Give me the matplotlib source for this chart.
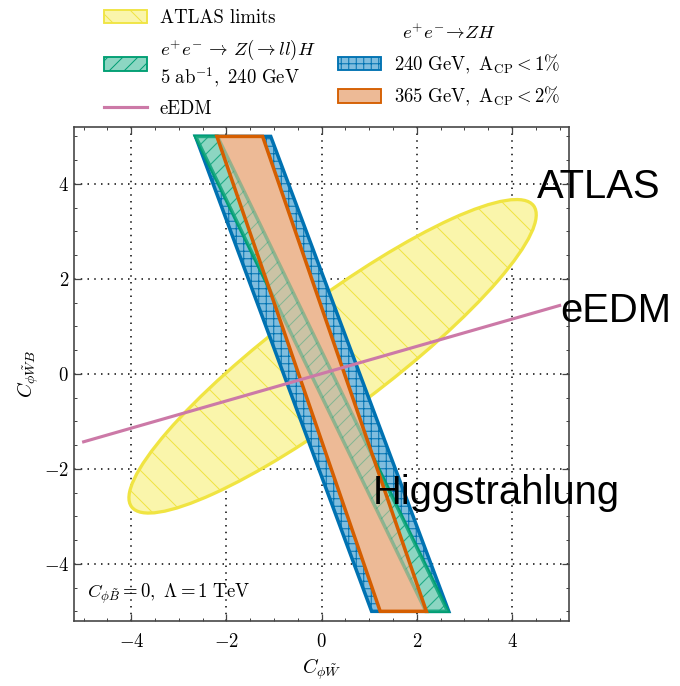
import matplotlib
matplotlib.use("Agg")
import matplotlib.pyplot as plt
from matplotlib.patches import Polygon, Ellipse, Patch
from matplotlib.lines import Line2D
from matplotlib.ticker import MultipleLocator

plt.rcParams['font.family'] = 'serif'
plt.rcParams['font.serif'] = ['cmr10']
plt.rcParams['mathtext.fontset'] = 'cm'
plt.rcParams['axes.formatter.use_mathtext'] = True
plt.rcParams['axes.unicode_minus'] = True
plt.rcParams['hatch.linewidth'] = 0.8

# ATLAS ellipse (centre, full axes, tilt in degrees)
atlas_center = (0.23, 0.37)
atlas_width = 10.56
atlas_height = 2.30
atlas_angle = 36.9

# Higgstrahlung bands: x at the top (y=5) and bottom (y=-5) edges
band_y = [5.0, -5.0]
blue_top = [-2.65, -1.07]
blue_bottom = [1.05, 2.67]
green_top = [-2.65, -2.19]
green_bottom = [2.19, 2.65]
orange_top = [-2.20, -1.24]
orange_bottom = [1.23, 2.20]

# eEDM line
edm_x = [-5.0, 5.0]
edm_y = [-1.43, 1.44]

blue = '#0072B2'
green = '#009E73'
orange = '#D55E00'
yellow = '#F0E442'
pink = '#CC79A7'

blue_fill = (0.50, 0.74, 0.87)
green_fill = (0.55, 0.84, 0.76)
orange_fill = (0.93, 0.73, 0.59)
yellow_fill = (0.98, 0.96, 0.67)


def band(top, bottom):
    return [(top[0], band_y[0]), (top[1], band_y[0]),
            (bottom[1], band_y[1]), (bottom[0], band_y[1])]


fig = plt.figure(figsize=(680 / 90, 686 / 90), dpi=90)
ax = fig.add_axes([0.109, 0.095, 0.728, 0.720])

ax.add_patch(Ellipse(atlas_center, atlas_width, atlas_height, angle=atlas_angle,
                     facecolor=yellow_fill, edgecolor=yellow, hatch='\\',
                     lw=2.6, zorder=1))

ax.add_patch(Polygon(band(blue_top, blue_bottom), closed=True,
                     facecolor=blue_fill, edgecolor=blue, hatch='++',
                     lw=2.8, zorder=2))
ax.add_patch(Polygon(band(green_top, green_bottom), closed=True,
                     facecolor=green_fill, edgecolor=green, hatch='//',
                     lw=2.8, zorder=3))
ax.add_patch(Polygon(band(orange_top, orange_bottom), closed=True,
                     facecolor=orange_fill, edgecolor='none', zorder=4))
ax.add_patch(Polygon(band(green_top, green_bottom), closed=True,
                     facecolor=green_fill, edgecolor=green, hatch='//',
                     lw=2.8, alpha=0.35, zorder=5))
ax.add_patch(Polygon(band(orange_top, orange_bottom), closed=True,
                     facecolor='none', edgecolor=orange, lw=2.8, zorder=6))

ax.plot(edm_x, edm_y, color=pink, lw=2.5, zorder=7)

ax.set_xlim(-5.2, 5.2)
ax.set_ylim(-5.2, 5.2)
ax.xaxis.set_major_locator(MultipleLocator(2))
ax.yaxis.set_major_locator(MultipleLocator(2))
ax.xaxis.set_minor_locator(MultipleLocator(0.5))
ax.yaxis.set_minor_locator(MultipleLocator(0.5))
ax.tick_params(which='both', direction='in', top=True, right=True,
               labelsize=15, color='#444444')
ax.tick_params(which='major', length=5.5, width=1.0)
ax.tick_params(which='minor', length=2.8, width=0.8)
ax.tick_params(axis='x', pad=10)
ax.tick_params(axis='y', pad=4)
for s in ax.spines.values():
    s.set_linewidth(1.3)
    s.set_color('#444444')
ax.set_axisbelow(True)
ax.grid(True, which='major', linestyle=(0, (1, 3.5)), color='k', lw=1.2)

ax.set_xlabel(r'$C_{\phi\tilde{W}}$', fontsize=16, labelpad=4)
ax.set_ylabel(r'$C_{\phi\tilde{W}B}$', fontsize=16, labelpad=2)

ax.text(-4.92, -4.63, r'$C_{\phi\tilde{B}} = 0,\ \Lambda = 1\ \mathrm{TeV}$',
        fontsize=15, va='center', ha='left', zorder=10)

big = dict(family='Liberation Sans', fontsize=32, va='center', ha='left',
           zorder=10)
ax.text(4.53, 3.93, 'ATLAS', **big)
ax.text(5.02, 1.33, 'eEDM', **big)
ax.text(1.08, -2.51, 'Higgstrahlung', **big)

left_handles = [
    Patch(facecolor=yellow_fill, edgecolor=yellow, hatch='\\', lw=1.5),
    Patch(facecolor=green_fill, edgecolor=green, hatch='//', lw=1.5),
    Line2D([], [], color=pink, lw=2.5),
]
left_labels = [
    'ATLAS limits',
    r'$e^{+}e^{-}\,\to\,Z(\to ll)H$' + '\n' + r'$5\ \mathrm{ab}^{-1},\ 240\ \mathrm{GeV}$',
    'eEDM',
]
fig.legend(left_handles, left_labels, loc='upper left',
           bbox_to_anchor=(0.147, 0.992), frameon=False, fontsize=15,
           handlelength=2.3, handletextpad=0.7, labelspacing=0.55,
           borderpad=0.2, borderaxespad=0)

right_handles = [
    Patch(facecolor=blue_fill, edgecolor=blue, hatch='++', lw=1.5),
    Patch(facecolor=orange_fill, edgecolor=orange, lw=1.5),
]
right_labels = [
    r'$240\ \mathrm{GeV},\ \mathrm{A}_{\mathrm{CP}} < 1\%$',
    r'$365\ \mathrm{GeV},\ \mathrm{A}_{\mathrm{CP}} < 2\%$',
]
fig.legend(right_handles, right_labels, loc='upper left',
           bbox_to_anchor=(0.491, 0.972), frameon=False, fontsize=15,
           title=r'$e^{+}e^{-}\!\to\! ZH$', title_fontsize=15,
           handlelength=2.3, handletextpad=0.7, labelspacing=0.5,
           borderpad=0.2, borderaxespad=0)

fig.savefig('out.png', dpi=90)
